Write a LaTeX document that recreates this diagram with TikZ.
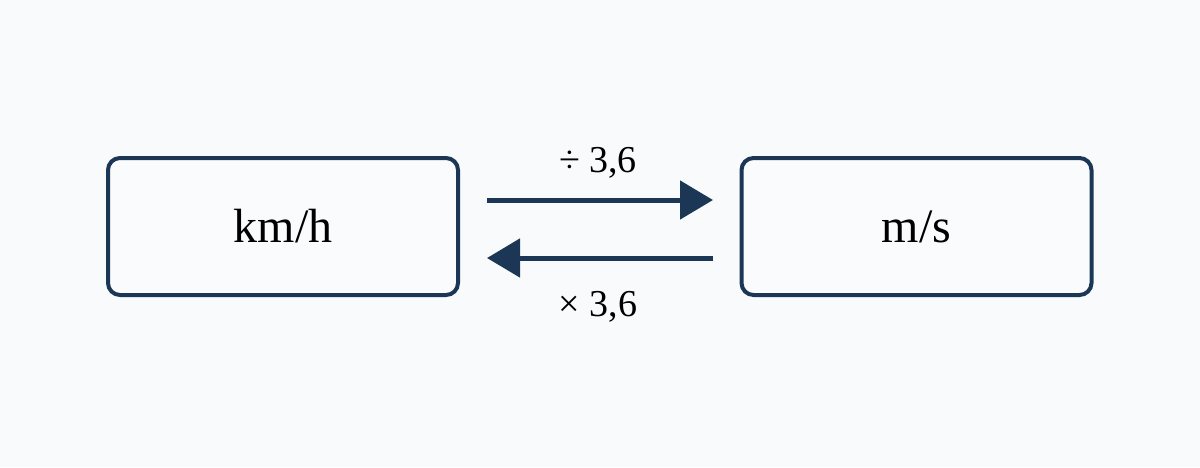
\documentclass[tikz,border=0pt]{standalone}
\usepackage{fontspec}
\setmainfont{Liberation Serif}
\usetikzlibrary{arrows.meta}
\definecolor{bg}{HTML}{F8FAFC}
\definecolor{navy}{HTML}{1B3755}
\definecolor{boxfill}{HTML}{FAFBFD}
\begin{document}
\begin{tikzpicture}[x=1pt,y=-1pt,
  unitbox/.style={draw=navy,line width=4pt,fill=boxfill,rounded corners=12pt,minimum width=350pt,minimum height=137pt,inner sep=0pt},
  unittext/.style={font=\fontsize{48}{56}\selectfont,anchor=base,text=black},
  convlabel/.style={font=\fontsize{38}{44}\selectfont,anchor=base,text=black},
  convarrow/.style={draw=navy,line width=5pt,-{Triangle[length=33pt,width=38pt]}}]
\fill[bg] (0,0) rectangle (1200,467);
\useasboundingbox (0,0) rectangle (1200,467);
\node[unitbox] (kmh) at (283,226.5) {};
\node[unitbox] (ms) at (916.5,226.5) {};
\node[unittext] (kmhtext) at (283,242) {km/h};
\node[unittext] (mstext) at (916.5,242) {m/s};
\coordinate (a1s) at (487,200);
\coordinate (a1e) at (713,200);
\coordinate (a2s) at (713,258);
\coordinate (a2e) at (487,258);
\draw[convarrow] (a1s) -- (a1e);
\draw[convarrow] (a2s) -- (a2e);
\node[convlabel] (divlabel) at (598,172) {÷ 3,6};
\node[convlabel] (mullabel) at (598,316) {× 3,6};
\end{tikzpicture}
\end{document}
